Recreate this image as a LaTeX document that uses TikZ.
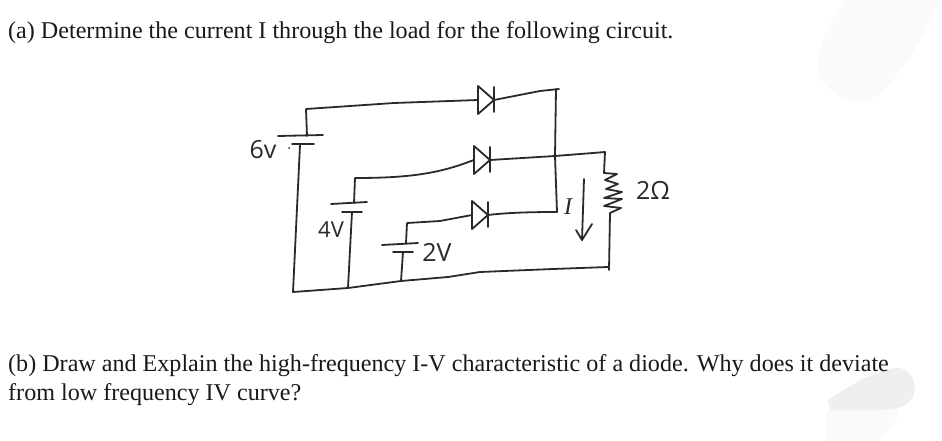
\documentclass[tikz,border=0pt]{standalone}
\usepackage{fontspec}
\setmainfont{Liberation Serif}
\newfontfamily\handfont{Open Sans}
\definecolor{inkc}{HTML}{2A2A2A}
\definecolor{smudgec}{HTML}{EFEFEF}
\definecolor{paled}{HTML}{FAFAFA}
\tikzset{
    wire/.style={draw=inkc, line width=1.8pt, line cap=round, line join=round},
    plate/.style={draw=inkc, line width=1.8pt, line cap=round},
    hand/.style={text=inkc, inner sep=0pt, font=\handfont\fontsize{25}{25}\selectfont},
    question/.style={text=black!90, inner sep=0pt, anchor=base west, font=\fontsize{24.1}{26}\selectfont}
}
\begin{document}
\begin{tikzpicture}[x=1pt, y=-1pt]

    \useasboundingbox (0, 0) rectangle (942, 441);

    \fill[paled] (843, 0) .. controls (830, 25) and (815, 50) .. (818, 67) .. controls (820, 90) and (845, 103) .. (863, 103) .. controls (885, 100) and (925, 40) .. (940, 0) -- cycle;
    \fill[paled] (827, 410) -- (900, 408) .. controls (895, 425) and (885, 441) .. (870, 441) -- (825, 441) -- cycle;
    \fill[smudgec] (828, 400) .. controls (850, 385) and (880, 368) .. (897, 368) .. controls (912, 368) and (918, 385) .. (913, 397) .. controls (905, 408) and (895, 410) .. (880, 410) -- (830, 410) -- cycle;

    \node[question] (parta) at (8, 39) {(a) Determine the current I through the load for the following circuit.};
    \node[question] (partb) at (8, 371) {(b) Draw and Explain the high-frequency I-V characteristic of a diode. Why does it deviate};
    \node[question] (partbb) at (8, 400) {from low frequency IV curve?};

    % batteries
    \foreach \xa/\ya/\xb/\yb/\xc/\xd/\yc in {278/136/323/135/292/314/144, 331/204/367/202/342/362/212, 382/245/418/243/393/413/252}{
            \draw[plate] (\xa, \ya) -- (\xb, \yb);
            \draw[plate] (\xc, \yc) -- (\xd, \yc);
        }

    % diodes
    \foreach \name/\x/\y in {dtop/478/100, dmid/474/160, dlow/472/215}{
            \coordinate (\name-a) at (\x, \y);
            \coordinate (\name-k) at (\x + 16, \y);
            \draw[wire] (\x, \y - 14) -- (\x, \y + 14) -- (\name-k) -- cycle;
            \draw[plate] (\x + 16, \y - 13) -- (\x + 16, \y + 12);
        }

    \coordinate (sixtop) at (306, 109);
    \coordinate (fourtop) at (355, 178);
    \coordinate (twotop) at (407, 223);
    \coordinate (sixbot) at (293, 292);
    \coordinate (fourbot) at (348, 288);
    \coordinate (twobot) at (401, 281);
    \coordinate (busa) at (556, 89);
    \coordinate (busb) at (555, 156);
    \coordinate (busc) at (557, 212);
    \coordinate (rtop) at (605, 152);
    \coordinate (rin) at (604, 173);
    \coordinate (rout) at (610, 213);
    \coordinate (rbot) at (609, 270);
    \coordinate (arrowa) at (584, 179);
    \coordinate (arrowb) at (582, 240);
    \coordinate (heada) at (576, 230);
    \coordinate (headb) at (592, 224);

    % wires
    \draw[wire] (307, 136) -- (sixtop) -- (394, 103) -- (dtop-a);
    \draw[wire] (dtop-k) -- (540, 91) -- (559, 89);
    \draw[wire] (busa) -- (busb) -- (busc);
    \draw[wire] (354, 203) -- (fourtop) .. controls (400, 178) and (430, 175) .. (460, 165) -- (dmid-a);
    \draw[wire] (dmid-k) -- (busb) -- (593, 153) -- (rtop) -- (rin);
    \draw[wire] (406, 243) -- (twotop) -- (440, 221) -- (dlow-a);
    \draw[wire] (dlow-k) .. controls (505, 213) and (525, 212) .. (busc);
    \draw[wire] (300, 145) -- (sixbot) -- (fourbot) -- (twobot) -- (448, 277) -- (480, 272) -- (553, 269) -- (608, 267);
    \draw[wire] (352, 212) -- (fourbot);
    \draw[wire] (403, 252) -- (twobot);

    % resistor
    \draw[wire] (rin) -- (617, 174) -- (605, 180) -- (618, 184) -- (606, 189) -- (622, 192) -- (604, 198) -- (622, 199) -- (604, 206) -- (621, 208) -- (rout) -- (rbot);

    % current arrow
    \draw[wire] (arrowa) -- (arrowb) -- (heada);
    \draw[wire] (arrowb) -- (headb);

    \node[hand] (lsix) at (263, 150) {6v};
    \fill[inkc] (289, 148) circle (1);
    \node[hand, font=\handfont\fontsize{22}{22}\selectfont] (lfour) at (331, 230) {4V};
    \node[hand] (ltwo) at (437, 252) {2V};
    \node[hand, font=\rmfamily\itshape\fontsize{24}{24}\selectfont] (lcur) at (568, 207) {I};
    \node[hand] (lres) at (653, 190) {2Ω};

\end{tikzpicture}
\end{document}
